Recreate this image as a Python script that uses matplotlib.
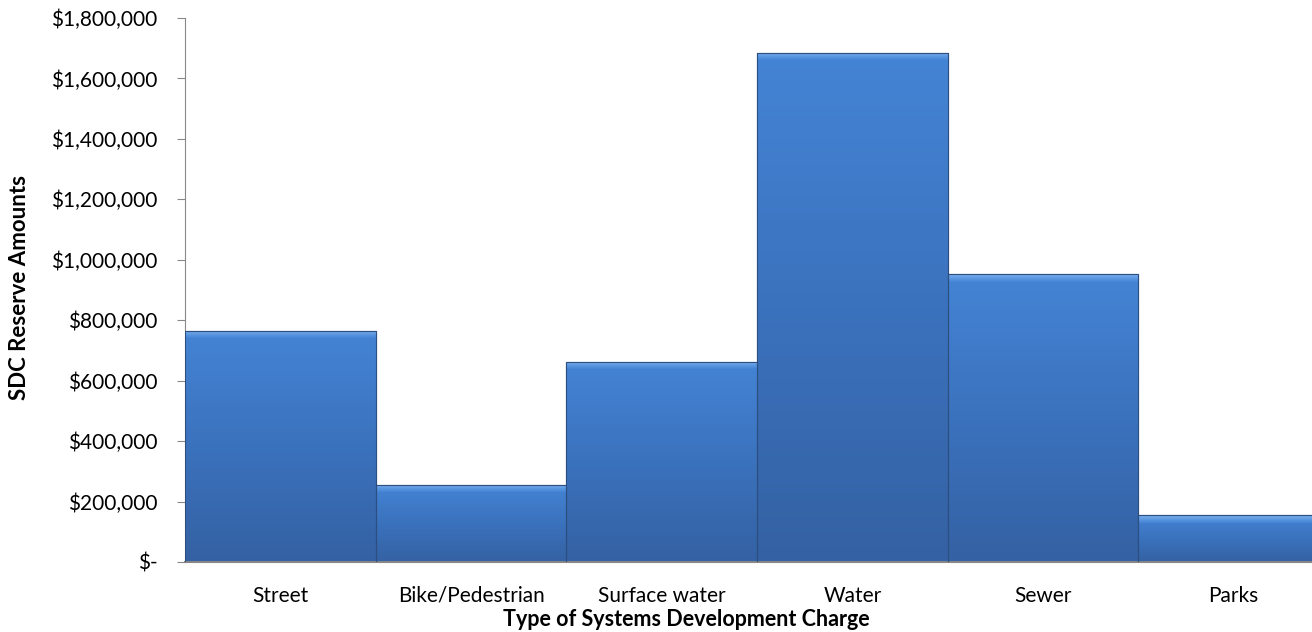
import matplotlib.pyplot as plt
import numpy as np
from matplotlib.ticker import FuncFormatter
from matplotlib.colors import LinearSegmentedColormap

plt.rcParams['font.family'] = ['Lato', 'DejaVu Sans']

categories = ['Street', 'Bike/Pedestrian', 'Surface water', 'Water', 'Sewer', 'Parks']
reserves = [765000, 255000, 662000, 1685000, 952000, 155000]

fig = plt.figure(figsize=(13.12, 6.32), dpi=100)
ax = fig.add_axes([185 / 1312, (632 - 562) / 632, 1144 / 1312, 544 / 632])

x = np.arange(len(categories))
bars = ax.bar(x, reserves, width=1.0, color='#3d76c4', edgecolor='#2c4f80',
              linewidth=0.8, zorder=2)

# vertical gradient inside each bar (lighter at top, darker at bottom)
grad = np.linspace(0, 1, 256).reshape(-1, 1)
cmap = LinearSegmentedColormap.from_list('bar', ['#3461a3', '#3b72bd', '#4484d5'])
hl = LinearSegmentedColormap.from_list('hl', ['#4484d5', '#7ab0ef'])
for b in bars:
    x0, w, h = b.get_x(), b.get_width(), b.get_height()
    im = ax.imshow(grad, cmap=cmap, aspect='auto', origin='lower',
                   extent=[x0, x0 + w, 0, h], zorder=2.5)
    im.set_clip_path(b)
    # bevel highlight at top
    im2 = ax.imshow(grad, cmap=hl, aspect='auto', origin='lower',
                    extent=[x0, x0 + w, h - 25000, h], zorder=3)
    im2.set_clip_path(b)
    ax.bar(x0 + w / 2, h, width=w, fill=False, edgecolor='#2c4f80', linewidth=0.8, zorder=4)

ax.set_xlim(-0.5, 5.5)
ax.set_ylim(0, 1800000)
ax.set_yticks(np.arange(0, 1800001, 200000))


def money(v, pos):
    if v == 0:
        return '$-'
    return '${:,.0f}'.format(v)


ax.yaxis.set_major_formatter(FuncFormatter(money))
ax.set_xticks(x)
ax.set_xticklabels(categories)
ax.tick_params(axis='y', labelsize=15, length=6, color='#888888', pad=14)
ax.tick_params(axis='x', labelsize=15, length=0, pad=17)

for s in ['top', 'right']:
    ax.spines[s].set_visible(False)
ax.spines['left'].set_color('#888888')
ax.spines['bottom'].set_color('#888888')
ax.spines['bottom'].set_linewidth(1.5)

fig.text(20 / 1312, 1 - 288 / 632, 'SDC Reserve Amounts', rotation=90, fontsize=16,
         fontweight='bold', ha='center', va='center')
fig.text(686 / 1312, 1 - 619 / 632, 'Type of Systems Development Charge', fontsize=15.5,
         fontweight='bold', ha='center', va='center')

fig.savefig('out.png', dpi=100)
